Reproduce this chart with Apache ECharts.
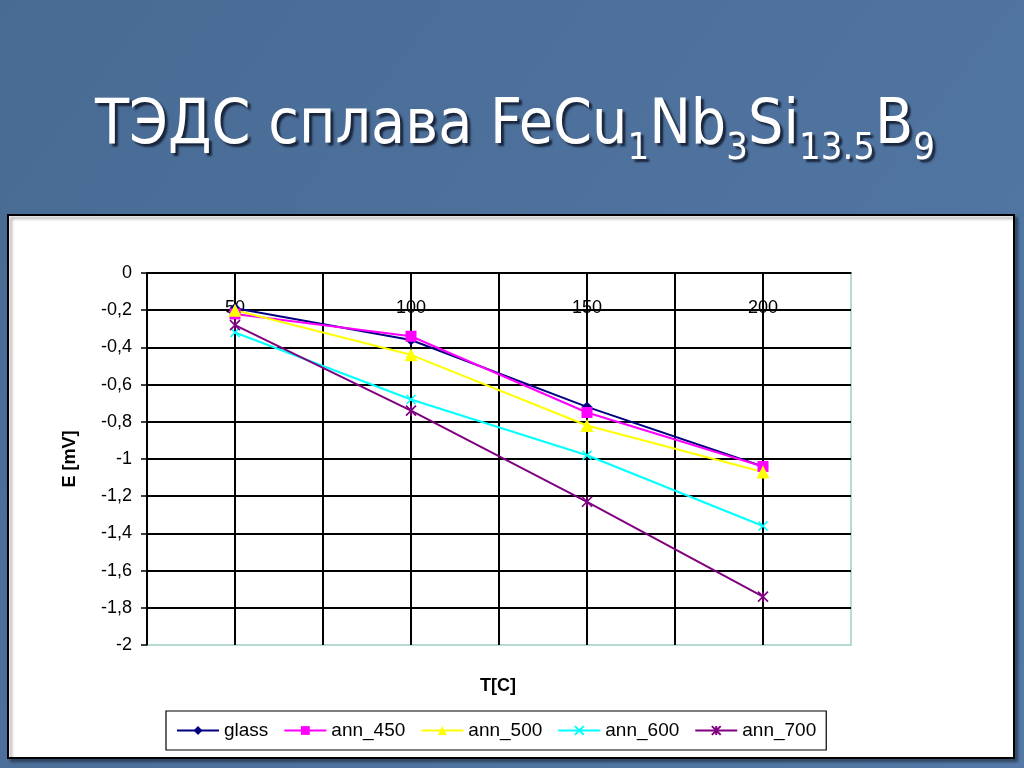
<!DOCTYPE html>
<html><head><meta charset="utf-8">
<script src="https://cdn.jsdelivr.net/npm/echarts@6/dist/echarts.min.js"></script>
<style>html,body{margin:0;padding:0;background:#4c6f98;}#c{width:1024px;height:768px;}</style>
</head><body><div id="c"></div>
<script>
const temperatures = [50, 100, 150, 200];
const glass  = [-0.19, -0.36, -0.72, -1.04];
const ann450 = [-0.22, -0.34, -0.75, -1.04];
const ann500 = [-0.20, -0.44, -0.82, -1.07];
const ann600 = [-0.32, -0.68, -0.98, -1.36];
const ann700 = [-0.28, -0.74, -1.23, -1.74];
const seriesNames = ['glass', 'ann_450', 'ann_500', 'ann_600', 'ann_700'];
const seriesValues = [glass, ann450, ann500, ann600, ann700];
const colors = ['#000080', '#ff00ff', '#ffff00', '#00ffff', '#800080'];
const symbols = ['diamond', 'rect', 'triangle', 'path://M0,0L10,10M10,0L0,10', 'path://M0,0L10,10M10,0L0,10M5,0L5,10'];
const symbolSizes = [11, 11, 13, 9, 10];

const chart = echarts.init(document.getElementById('c'));
const font = 'Liberation Sans, Arial, sans-serif';
const series = seriesNames.map((n, i) => ({
  name: n, type: 'line',
  data: temperatures.map((t, j) => [t, seriesValues[i][j]]),
  symbol: symbols[i], symbolSize: symbolSizes[i],
  lineStyle: {color: colors[i], width: 2},
  itemStyle: {color: colors[i], borderColor: colors[i], borderWidth: i >= 3 ? 1.6 : 0},
  showSymbol: true, animation: false
}));
const sh = {textShadowColor: 'rgba(20,30,50,0.9)', textShadowOffsetX: 3, textShadowOffsetY: 3, textShadowBlur: 2};
chart.setOption({
  backgroundColor: {type: 'linear', x: 0, y: 0, x2: 1, y2: 1, colorStops: [{offset: 0, color: '#486b94'}, {offset: 1, color: '#5479a6'}]},
  animation: false,
  graphic: [
    {type: 'rect', shape: {x: 8, y: 215, width: 1006, height: 543}, style: {fill: '#ffffff', stroke: '#000000', lineWidth: 2, shadowColor: 'rgba(0,0,0,0.35)', shadowOffsetX: 3, shadowOffsetY: 3, shadowBlur: 3}, z: -10},
    {type: 'text', left: 95, top: 96, style: Object.assign({
      text: '{m|ТЭДС сплава FeCu}{s|1}{m|Nb}{s|3}{m|Si}{s|13.5}{m|B}{s|9}',
      fill: '#ffffff',
      rich: {
        m: Object.assign({fontFamily: 'DejaVu Sans Condensed', fontSize: 62, fill: '#ffffff', lineHeight: 72, verticalAlign: 'bottom'}, sh),
        s: Object.assign({fontFamily: 'DejaVu Sans Condensed', fontSize: 38, fill: '#ffffff', lineHeight: 72, verticalAlign: 'bottom', padding: [0, 0, -10, 0]}, sh)
      }
    }, sh)},
    {type: 'text', x: 498, y: 686, style: {text: 'T[C]', fontFamily: font, fontWeight: 'bold', fontSize: 18, fill: '#000', align: 'center', verticalAlign: 'middle'}}
  ],
  legend: {
    left: 166, top: 711,
    padding: [10, 10, 10, 10], itemGap: 15,
    backgroundColor: '#fff', borderColor: '#000', borderWidth: 1.2,
    itemWidth: 42, itemHeight: 11,
    textStyle: {fontFamily: font, fontSize: 19, color: '#000'},
    data: seriesNames
  },
  grid: {left: 147, top: 273, width: 704, height: 372, show: true, borderColor: '#9fd0c8', borderWidth: 1.5, backgroundColor: '#fff'},
  xAxis: {
    type: 'value', position: 'top', min: 25, max: 225, interval: 25,
    axisLine: {show: true, onZero: false, lineStyle: {color: '#000', width: 1.5}},
    axisTick: {show: false},
    axisLabel: {inside: true, margin: 26, fontFamily: font, fontSize: 18, color: '#000',
      formatter: v => (v % 50 === 0 ? String(v) : '')},
    splitLine: {show: true, showMaxLine: false, lineStyle: {color: '#000', width: 2}}
  },
  yAxis: {
    type: 'value', min: -2, max: 0, interval: 0.2,
    name: 'E [mV]', nameLocation: 'middle', nameGap: 68, nameRotate: 90,
    nameTextStyle: {fontFamily: font, fontWeight: 'bold', fontSize: 18, color: '#000'},
    axisLine: {show: true, lineStyle: {color: '#000', width: 1.5}},
    axisTick: {show: true, length: 6, lineStyle: {color: '#000', width: 1.5}},
    axisLabel: {margin: 15, fontFamily: font, fontSize: 18, color: '#000',
      formatter: v => String(Math.round(v * 10) / 10).replace('.', ',')},
    splitLine: {show: true, showMinLine: false, lineStyle: {color: '#000', width: 2}}
  },
  series: series
});
</script></body></html>
